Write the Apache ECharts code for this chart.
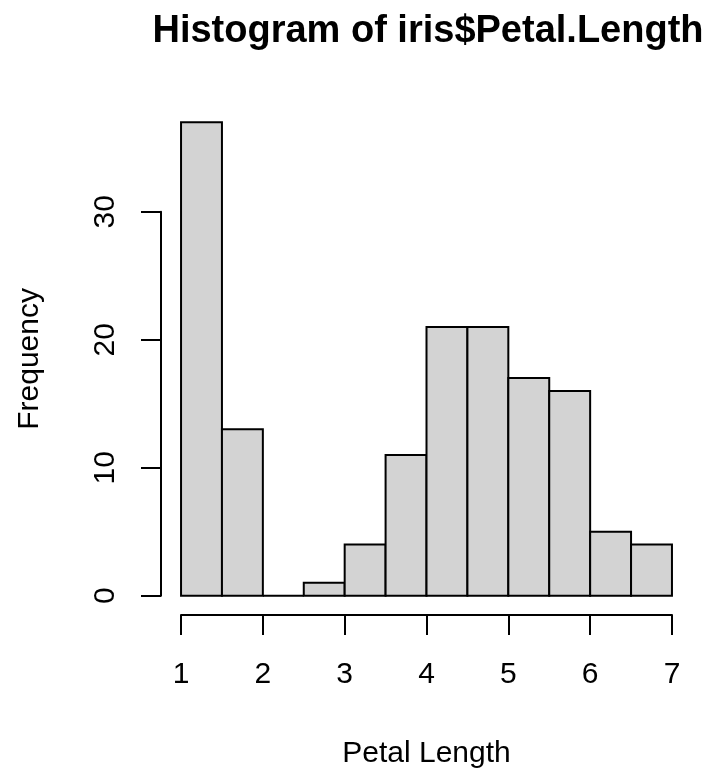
<!DOCTYPE html>
<html>
<head>
<meta charset="utf-8">
<title>Histogram of iris$Petal.Length</title>
<script src="https://cdn.jsdelivr.net/npm/echarts@6/dist/echarts.min.js"></script>
<style>
  html, body { margin: 0; padding: 0; background: #ffffff; }
  #chart { width: 711px; height: 768px; }
</style>
</head>
<body>
<div id="chart"></div>
<script>
// Bin edges (width 0.5) and counts per bin for iris Petal.Length
const binEdges = [1, 1.5, 2, 2.5, 3, 3.5, 4, 4.5, 5, 5.5, 6, 6.5, 7];
const binCounts = [37, 13, 0, 1, 4, 11, 21, 21, 17, 16, 5, 4];
const xTicks = [1, 2, 3, 4, 5, 6, 7];
const yTicks = [0, 10, 20, 30];

const FONT = '"Liberation Sans", Arial, Helvetica, sans-serif';

// [left edge, right edge, count] for each bin
const bins = binCounts.map((c, i) => [binEdges[i], binEdges[i + 1], c]);

const chart = echarts.init(document.getElementById('chart'), null, { renderer: 'canvas' });

const hiddenAxis = {
  axisLine: { show: false },
  axisTick: { show: false },
  axisLabel: { show: false },
  splitLine: { show: false }
};

// grids keep their exact placement (no automatic shrinking for labels/names)
const fixedGrid = { containLabel: false, outerBoundsMode: 'none' };

const option = {
  animation: false,
  backgroundColor: '#ffffff',
  title: {
    text: 'Histogram of iris$Petal.Length',
    left: 423,
    top: 8,
    textAlign: 'center',
    textStyle: { fontFamily: FONT, fontWeight: 'bold', fontSize: 38, color: '#000' }
  },
  grid: [
    // plot region (bars + axis titles)
    Object.assign({ left: 161.4, top: 103.2, width: 530.2, height: 511.4 }, fixedGrid),
    // frame for the visible y axis (0..30)
    Object.assign({ left: 161, top: 211.7, width: 10, height: 384 }, fixedGrid),
    // frame for the visible x axis (1..7)
    Object.assign({ left: 181, top: 605, width: 491, height: 10 }, fixedGrid)
  ],
  xAxis: [
    Object.assign({
      type: 'value', gridIndex: 0,
      min: 0.76, max: 7.24,
      name: 'Petal Length', nameLocation: 'middle', nameGap: 124,
      nameTextStyle: { fontFamily: FONT, fontSize: 30, color: '#000' }
    }, hiddenAxis),
    Object.assign({ type: 'value', gridIndex: 1, min: 0, max: 1 }, hiddenAxis),
    {
      type: 'value', gridIndex: 2, position: 'bottom',
      min: 1, max: 7, interval: 1,
      axisLine: { show: true, lineStyle: { color: '#000', width: 2 } },
      axisTick: { show: true, length: 20, inside: false, lineStyle: { color: '#000', width: 2 } },
      axisLabel: {
        show: true, margin: 45, fontFamily: FONT, fontSize: 30, color: '#000',
        formatter: v => (xTicks.includes(v) ? String(v) : '')
      },
      splitLine: { show: false }
    }
  ],
  yAxis: [
    Object.assign({
      type: 'value', gridIndex: 0,
      min: -1.48, max: 38.48,
      name: 'Frequency', nameLocation: 'middle', nameGap: 117, nameRotate: 90,
      nameTextStyle: { fontFamily: FONT, fontSize: 30, color: '#000' }
    }, hiddenAxis),
    {
      type: 'value', gridIndex: 1, position: 'left',
      min: 0, max: 30, interval: 10,
      axisLine: { show: true, lineStyle: { color: '#000', width: 2 } },
      axisTick: { show: true, length: 20, inside: false, lineStyle: { color: '#000', width: 2 } },
      axisLabel: {
        show: true, rotate: 90, margin: 40, fontFamily: FONT, fontSize: 30, color: '#000',
        formatter: v => (yTicks.includes(v) ? String(v) : '')
      },
      splitLine: { show: false }
    },
    Object.assign({ type: 'value', gridIndex: 2, min: 0, max: 1 }, hiddenAxis)
  ],
  series: [
    {
      type: 'custom',
      xAxisIndex: 0,
      yAxisIndex: 0,
      data: bins,
      encode: { x: [0, 1], y: 2 },
      renderItem: function (params, api) {
        const p0 = api.coord([api.value(0), 0]);
        const p1 = api.coord([api.value(1), api.value(2)]);
        return {
          type: 'rect',
          shape: { x: p0[0], y: p1[1], width: p1[0] - p0[0], height: p0[1] - p1[1] },
          style: { fill: '#d3d3d3', stroke: '#000', lineWidth: 2 }
        };
      }
    }
  ]
};

chart.setOption(option);
</script>
</body>
</html>
